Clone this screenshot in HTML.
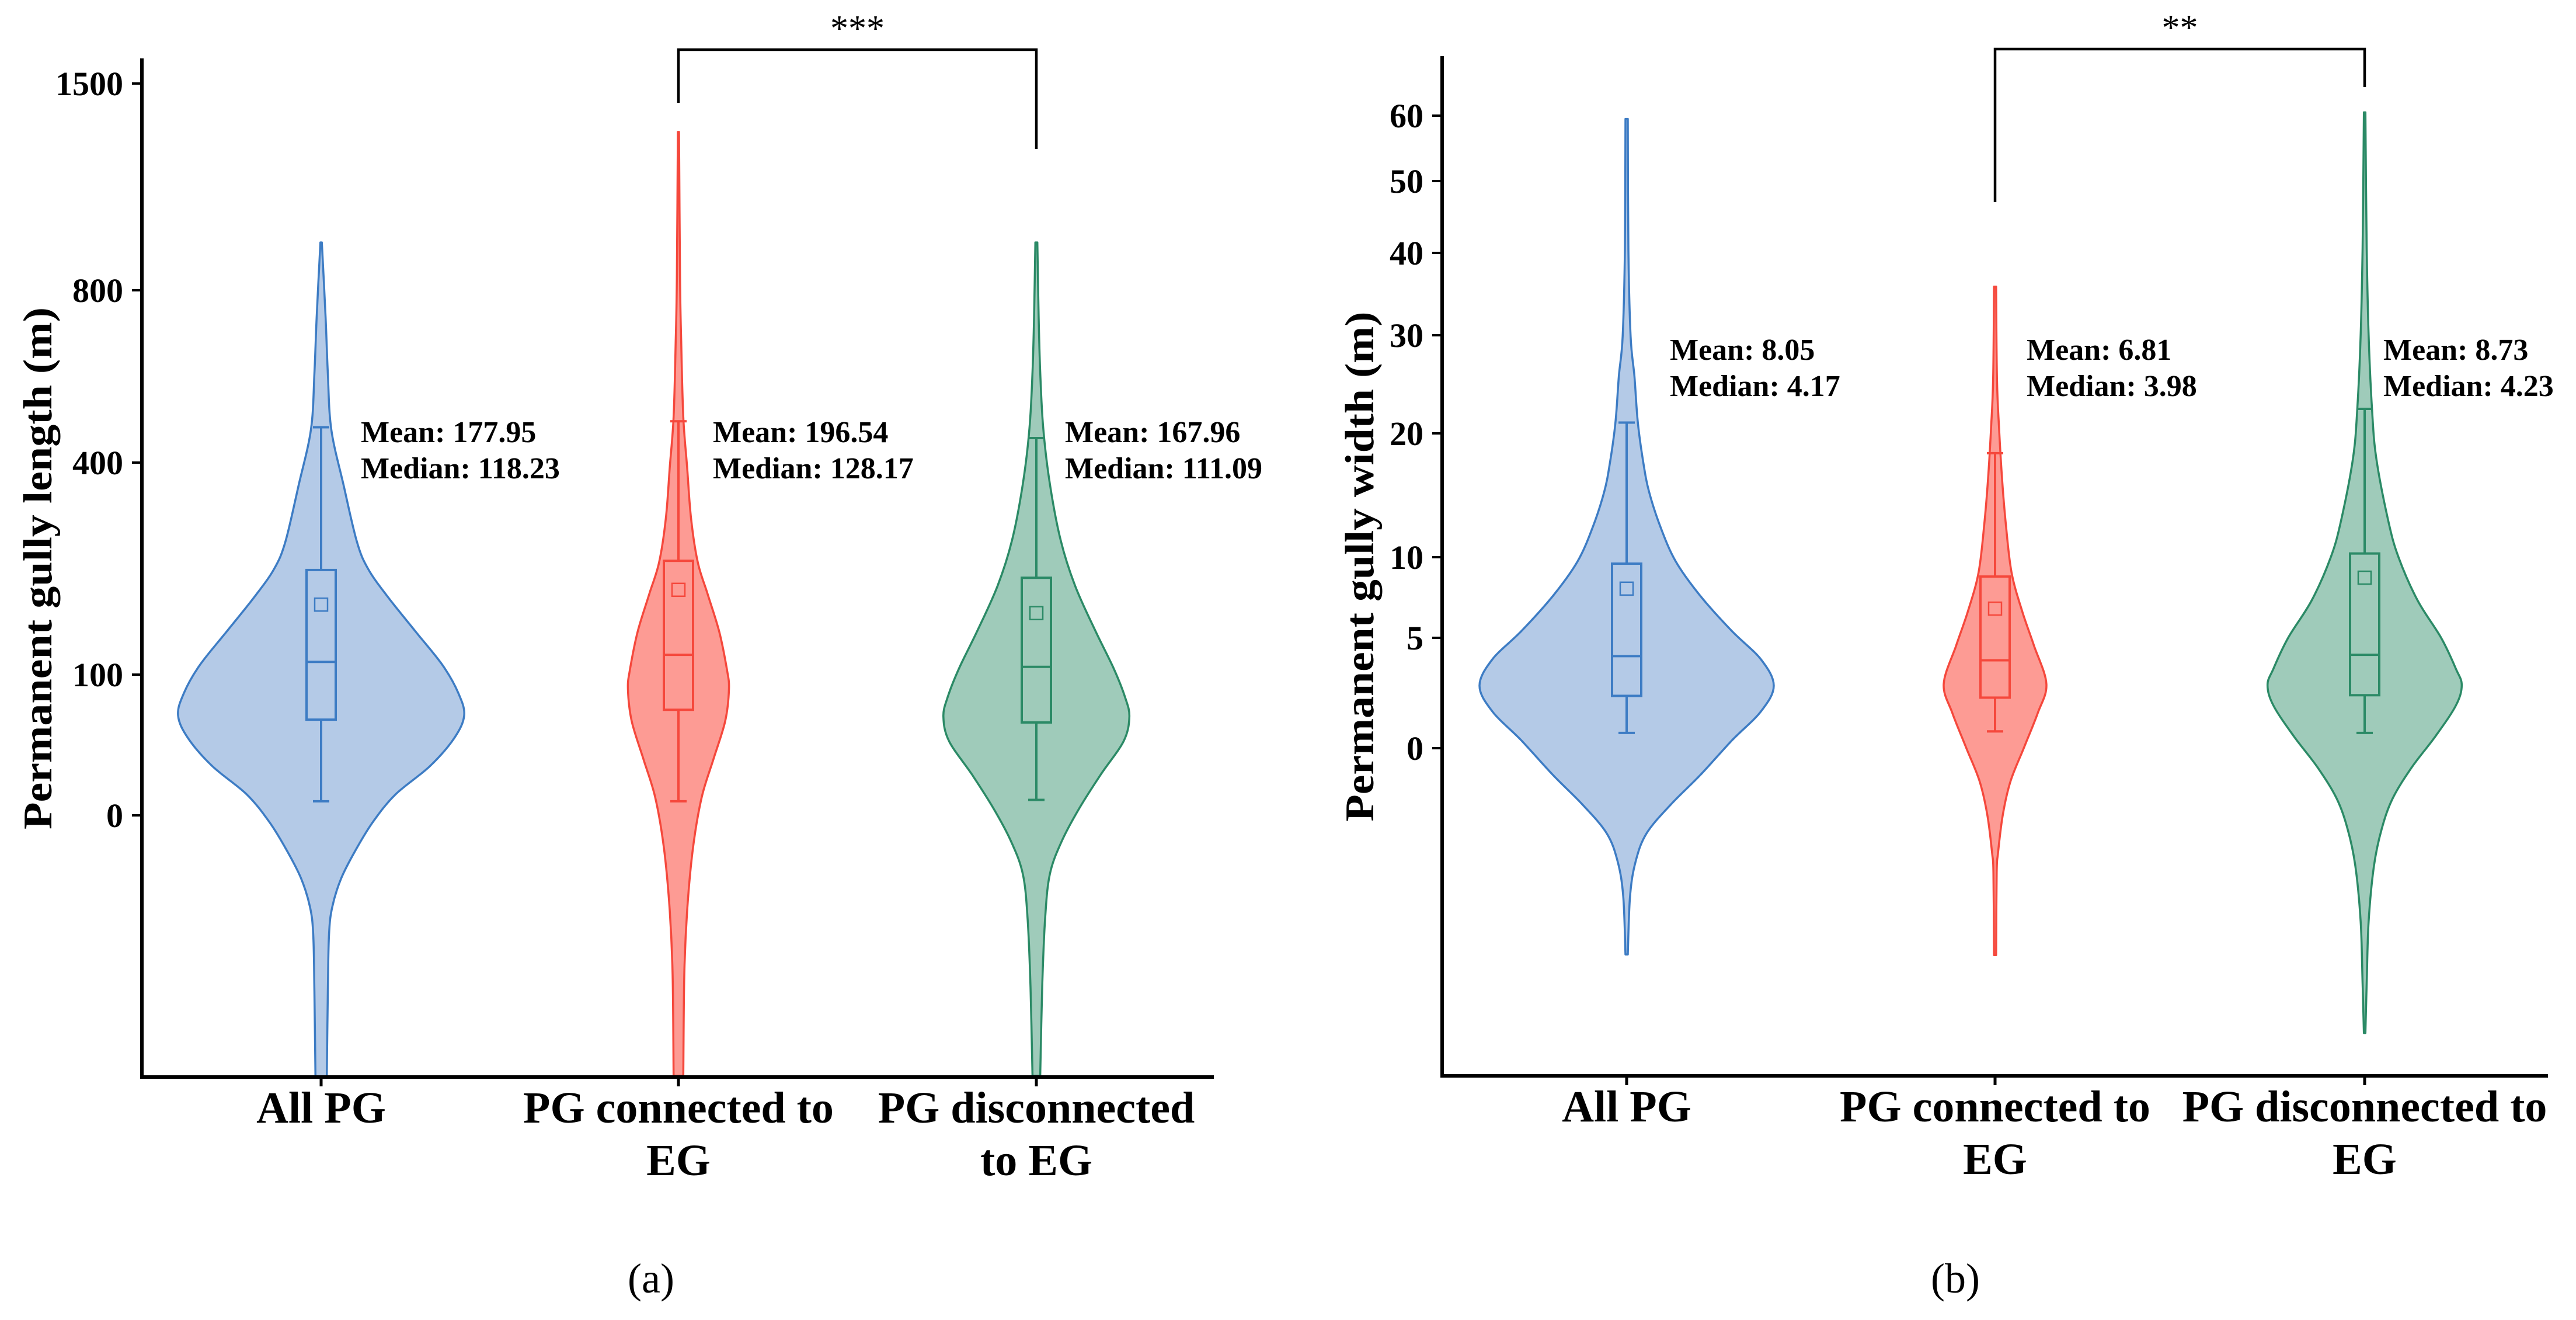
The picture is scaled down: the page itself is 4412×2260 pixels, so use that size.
<!DOCTYPE html>
<html><head><meta charset="utf-8"><style>
html,body{margin:0;padding:0;background:#fff;}
svg{display:block;}
text{font-family:"Liberation Serif","Times New Roman",serif;}
</style></head><body>
<svg id="fig" width="4412" height="2260" viewBox="0 0 4412 2260" xmlns="http://www.w3.org/2000/svg" font-family="Liberation Serif, serif">
<defs>
<clipPath id="clipA"><rect x="246" y="0" width="1840" height="1844"/></clipPath>
<clipPath id="clipB"><rect x="2473" y="0" width="1900" height="1840"/></clipPath>
</defs>
<g id="panelA"></g>
<g id="panelB"></g>
</svg>
<script>
// ---------- Panel A data (length, m) ----------
const catsA = ["All PG", "PG connected to|EG", "PG disconnected|to EG"];
const tickValsA = [0, 100, 400, 800, 1500];
const violinValsA_all = [962, 739, 607, 477, 368, 288, 249, 209, 161, 113, 86.7, 71, 54.8, 34.9, 14.9, -5, -24.9, -44.8, -65, -85, -125, -189];
const violinDensA_all = [0.005, 0.031, 0.047, 0.071, 0.157, 0.25, 0.33, 0.47, 0.66, 0.85, 0.96, 1.0, 0.93, 0.76, 0.52, 0.36, 0.24, 0.14, 0.078, 0.055, 0.047, 0.039];
const violinValsA_con = [1336, 843, 682, 506, 393, 321, 259, 214, 160, 107, 89.6, 67, 40, 13, -22.8, -67.6, -113, -185];
const violinDensA_con = [0.004, 0.011, 0.019, 0.034, 0.061, 0.088, 0.135, 0.204, 0.286, 0.339, 0.353, 0.327, 0.245, 0.163, 0.102, 0.061, 0.041, 0.034];
const violinValsA_dis = [962, 740, 610, 480, 369, 290, 226, 163, 109, 84, 70, 52.7, 29, 5, -18.7, -42, -74, -122, -185];
const violinDensA_dis = [0.007, 0.016, 0.027, 0.048, 0.095, 0.17, 0.27, 0.41, 0.54, 0.62, 0.65, 0.61, 0.45, 0.30, 0.176, 0.094, 0.061, 0.041, 0.027];
// box stats: [lowerWhisker, q1, median, q3, upperWhisker, meanMarker]
const boxA_all = [10, 68, 118, 248, 482, 199];
const boxA_con = [10, 75, 128, 261, 496, 220];
const boxA_dis = [11, 66, 111, 237, 457, 187];
const meanA = ["177.95", "196.54", "167.96"];
const medianA = ["118.23", "128.17", "111.09"];

// ---------- Panel B data (width, m) ----------
const catsB = ["All PG", "PG connected to|EG", "PG disconnected to|EG"];
const tickValsB = [0, 5, 10, 20, 30, 40, 50, 60];
const violinValsB_all = [59.5, 40.5, 29.9, 25.8, 21.1, 17.6, 15.3, 12.5, 9.75, 7.61, 5.43, 4.02, 2.83, 1.67, 0.34, -1.22, -2.51, -3.84, -5.13, -6.72, -9.34];
const violinDensB_all = [0.008, 0.012, 0.027, 0.053, 0.076, 0.114, 0.152, 0.228, 0.333, 0.5, 0.714, 0.913, 1.0, 0.913, 0.714, 0.5, 0.306, 0.137, 0.061, 0.023, 0.008];
const violinValsB_con = [35.9, 25.5, 20.6, 16.6, 12.7, 9.06, 6.63, 4.66, 2.91, 1.59, 0.05, -1.48, -3.0, -4.76, -5.63, -9.37];
const violinDensB_con = [0.007, 0.013, 0.027, 0.046, 0.073, 0.112, 0.185, 0.264, 0.349, 0.29, 0.198, 0.106, 0.053, 0.02, 0.011, 0.007];
const violinValsB_dis = [60.5, 40.7, 30.06, 22.5, 18.0, 12.97, 10, 7.32, 5, 3.6, 2.86, 1.93, 0.53, -0.87, -2.28, -3.68, -5.34, -7.86, -10.66, -12.9];
const violinDensB_dis = [0.005, 0.014, 0.027, 0.05, 0.079, 0.16, 0.23, 0.36, 0.52, 0.62, 0.66, 0.62, 0.48, 0.32, 0.19, 0.115, 0.063, 0.027, 0.014, 0.005];
const boxB_all = [0.69, 2.37, 4.17, 9.6, 21.1, 8.05];
const boxB_con = [0.76, 2.29, 3.98, 8.8, 18.4, 6.81];
const boxB_dis = [0.69, 2.4, 4.23, 10.3, 22.5, 8.73];
const meanB = ["8.05", "6.81", "8.73"];
const medianB = ["4.17", "3.98", "4.23"];

const NS = "http://www.w3.org/2000/svg";
function mk(parent, tag, attrs, txt){
  const e = document.createElementNS(NS, tag);
  for (const k in attrs) e.setAttribute(k, attrs[k]);
  if (txt !== undefined) e.textContent = txt;
  parent.appendChild(e);
  return e;
}
function pieceScale(vals, pix){
  return function(v){
    let i = 0;
    if (v <= vals[0]) i = 0;
    else if (v >= vals[vals.length-1]) i = vals.length-2;
    else { while (!(v >= vals[i] && v <= vals[i+1])) i++; }
    const t = (v - vals[i]) / (vals[i+1] - vals[i]);
    return pix[i] + t * (pix[i+1] - pix[i]);
  };
}
function smoothPath(pts){
  let d = "M" + pts[0][0].toFixed(1) + "," + pts[0][1].toFixed(1);
  for (let i = 0; i < pts.length-1; i++){
    const p0 = pts[Math.max(0,i-1)], p1 = pts[i], p2 = pts[i+1], p3 = pts[Math.min(pts.length-1,i+2)];
    const c1 = [p1[0] + (p2[0]-p0[0])/6, p1[1] + (p2[1]-p0[1])/6];
    const c2 = [p2[0] - (p3[0]-p1[0])/6, p2[1] - (p3[1]-p1[1])/6];
    d += " C" + c1[0].toFixed(1)+","+c1[1].toFixed(1)+" "+c2[0].toFixed(1)+","+c2[1].toFixed(1)+" "+p2[0].toFixed(1)+","+p2[1].toFixed(1);
  }
  return d;
}
const colors = [
  {stroke:"#3d7cc4", fill:"#b4cae7"},
  {stroke:"#f5483c", fill:"#fd9b94"},
  {stroke:"#2b8a66", fill:"#9fcbba"}
];
const catNames = ["all-pg","pg-connected","pg-disconnected"];

function drawPanel(cfg){
  const g = cfg.g;
  const y = pieceScale(cfg.tickVals, cfg.tickPix);
  const x = i => cfg.catX[i];
  const plot = mk(g, "g", {"clip-path":"url(#"+cfg.clip+")"});
  
  
  for (let i = 0; i < 3; i++){
    const cx = x(i), vals = cfg.vVals[i], dens = cfg.vDens[i], W = cfg.widthScale;
    const right = vals.map((v,k) => [cx + dens[k]*W, y(v)]);
    const left = vals.map((v,k) => [cx - dens[k]*W, y(v)]).reverse();
    const d = smoothPath(right) + " L" + left[0][0].toFixed(1)+","+left[0][1].toFixed(1) + smoothPath(left).replace(/^M[^C]*/, " ") + " Z";
    const vp = mk(plot, "path", {d:d, fill:colors[i].fill, stroke:colors[i].stroke, "stroke-width":3.5, "stroke-linejoin":"round"});
    
    
    const b = cfg.box[i], bw = 25, cw = 14, sc = colors[i].stroke;
    const bg = mk(plot, "g", {stroke:sc, "stroke-width":4, fill:"none"});
    
    
    mk(bg, "line", {x1:cx, x2:cx, y1:y(b[0]), y2:y(b[1])});
    mk(bg, "line", {x1:cx, x2:cx, y1:y(b[3]), y2:y(b[4])});
    mk(bg, "line", {x1:cx-cw, x2:cx+cw, y1:y(b[0]), y2:y(b[0])});
    mk(bg, "line", {x1:cx-cw, x2:cx+cw, y1:y(b[4]), y2:y(b[4])});
    mk(bg, "rect", {x:cx-bw, y:y(b[3]), width:2*bw, height:y(b[1])-y(b[3])});
    mk(bg, "line", {x1:cx-bw, x2:cx+bw, y1:y(b[2]), y2:y(b[2])});
    const ms = mk(bg, "rect", {x:cx-11, y:y(b[5])-11, width:22, height:22, "stroke-width":2.5});
    
    
    const an = mk(g, "text", {x:cfg.annX[i], y:cfg.annY, "font-size":52, "font-weight":"bold", fill:"#000"});
    
    
    mk(an, "tspan", {x:cfg.annX[i], dy:0}, "Mean: " + cfg.mean[i]);
    mk(an, "tspan", {x:cfg.annX[i], dy:62}, "Median: " + cfg.median[i]);
    mk(g, "line", {x1:cx, x2:cx, y1:cfg.axisY, y2:cfg.axisY+16, stroke:"#000", "stroke-width":5});
    const parts = cfg.cats[i].split("|");
    const cl = mk(g, "text", {x:cx, y:cfg.axisY+78, "font-size":76, "font-weight":"bold", "text-anchor":"middle"});
    
    
    parts.forEach((p,k) => mk(cl, "tspan", {x:cx, dy: k===0?0:90}, p));
  }
  const ax = mk(g, "g", {stroke:"#000", "stroke-width":6, fill:"none"});
  
  
  mk(ax, "line", {x1:cfg.axisX, x2:cfg.axisX, y1:cfg.axisTop, y2:cfg.axisY+3});
  mk(ax, "line", {x1:cfg.axisX-3, x2:cfg.axisRight, y1:cfg.axisY, y2:cfg.axisY});
  cfg.tickVals.forEach(v => {
    mk(ax, "line", {x1:cfg.axisX-17, x2:cfg.axisX, y1:y(v), y2:y(v), "stroke-width":4});
    const t = mk(g, "text", {x:cfg.axisX-32, y:y(v)+20, "font-size":58, "font-weight":"bold", "text-anchor":"end"}, String(v));
    
    
  });
  const yt = mk(g, "text", {x:0, y:0, "font-size":70, "font-weight":"bold", "text-anchor":"middle",
    transform:"translate("+cfg.titleX+","+cfg.titleY+") rotate(-90)", textLength:cfg.titleLen, lengthAdjust:"spacingAndGlyphs"}, cfg.title);
  
  
  const br = mk(g, "path", {d:"M"+x(1)+","+cfg.brL+" V"+cfg.brY+" H"+x(2)+" V"+cfg.brR, stroke:"#000", "stroke-width":4.5, fill:"none"});
  
  
  const st = mk(g, "text", {x:(x(1)+x(2))/2, y:cfg.brY-16, "font-size":62, "text-anchor":"middle"}, cfg.stars);
  
  
  const pl = mk(g, "text", {x:cfg.panelLabelX, y:2213, "font-size":72, "text-anchor":"middle"}, cfg.panelLabel);
  
  
}

drawPanel({
  g: document.getElementById("panelA"), clip:"clipA",
  tickVals: tickValsA, tickPix: [1396, 1155, 792, 497, 143],
  catX: [550, 1162, 1775], cats: catsA,
  vVals: [violinValsA_all, violinValsA_con, violinValsA_dis],
  vDens: [violinDensA_all, violinDensA_con, violinDensA_dis],
  widthScale: 245,
  box: [boxA_all, boxA_con, boxA_dis], mean: meanA, median: medianA,
  annX: [618, 1221, 1824], annY: 757,
  axisX: 243, axisTop: 100, axisY: 1844, axisRight: 2079,
  title: "Permanent gully length (m)", titleX: 88, titleY: 973, titleLen: 894,
  brY: 85, brL: 176, brR: 255, stars: "***", panelLabel: "(a)", panelLabelX: 1115
});
drawPanel({
  g: document.getElementById("panelB"), clip:"clipB",
  tickVals: tickValsB, tickPix: [1281, 1092, 954, 742, 574, 433, 310, 198],
  catX: [2786, 3417, 4050], cats: catsB,
  vVals: [violinValsB_all, violinValsB_con, violinValsB_dis],
  vDens: [violinDensB_all, violinDensB_con, violinDensB_dis],
  widthScale: 252,
  box: [boxB_all, boxB_con, boxB_dis], mean: meanB, median: medianB,
  annX: [2860, 3471, 4082], annY: 616,
  axisX: 2470, axisTop: 96, axisY: 1842, axisRight: 4364,
  title: "Permanent gully width (m)", titleX: 2352, titleY: 970, titleLen: 873,
  brY: 84, brL: 346, brR: 149, stars: "**", panelLabel: "(b)", panelLabelX: 3349
});
</script>
</body></html>
